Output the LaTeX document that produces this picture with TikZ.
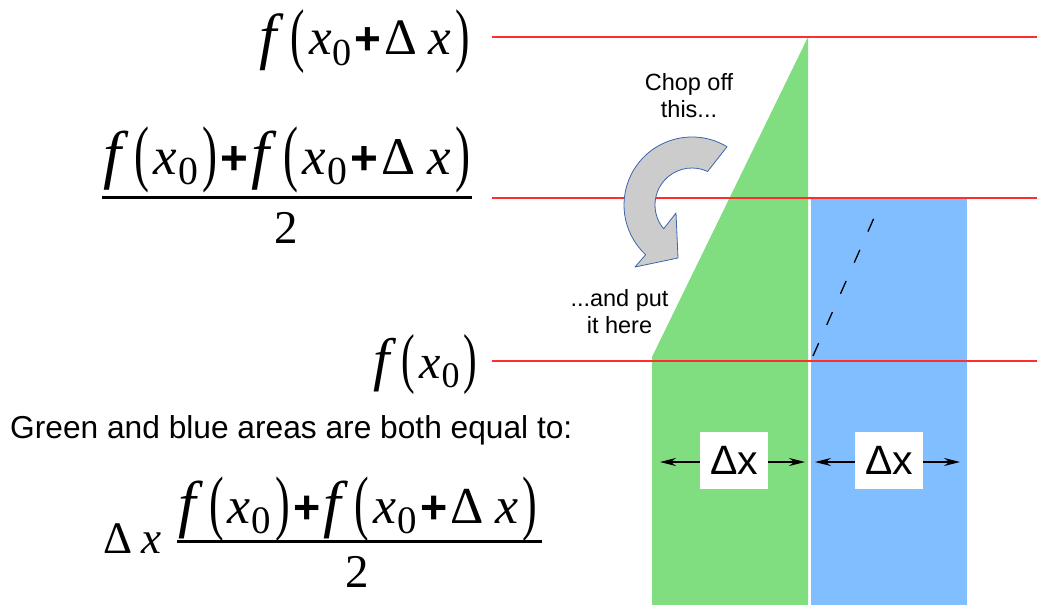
\documentclass[tikz,border=0pt]{standalone}
\usepackage{fontspec}
\setmainfont{Liberation Sans}
\newfontfamily\serifmath{Liberation Serif}
\usetikzlibrary{arrows.meta,calc}
\definecolor{grn}{RGB}{128,222,128}
\definecolor{blu}{RGB}{128,190,255}
\definecolor{redl}{RGB}{255,45,45}
\definecolor{arrfill}{RGB}{204,204,204}
\definecolor{arredge}{RGB}{60,100,175}
\newcommand{\mfi}[1]{{\itshape #1}}
\newcommand{\bigf}{\raisebox{-0.04em}{\scalebox{1.22}{\mfi{f}}}}
\newcommand{\lpar}{\raisebox{-0.06em}{\scalebox{0.85}[1.38]{(}}\kern0.08em}
\newcommand{\rpar}{\kern0.08em\raisebox{-0.06em}{\scalebox{0.85}[1.38]{)}}}
\newcommand{\subz}{\kern0.02em\raisebox{-0.2em}{\scalebox{0.75}{0}}}
\newcommand{\pls}{\kern0.06em{\normalfont\bfseries\scalebox{0.9}{+}}\kern0.06em}
\newcommand{\dlx}{Δ\kern0.22em\mfi{x}}
\newcommand{\fofx}[1]{\bigf\kern0.26em\lpar\mfi{x}\subz#1\rpar}
\newcommand{\mathsz}{\serifmath\fontsize{50}{60}\selectfont}
\begin{document}
\begin{tikzpicture}[x=1pt,y=-1pt,
  redline/.style={draw=redl,line width=1.3pt},
  formula/.style={inner sep=0pt,outer sep=0pt},
  fracline/.style={line width=3pt},
  two/.style={inner sep=0pt,font=\serifmath\fontsize{47}{50}\selectfont},
  note/.style={align=center,inner sep=0pt,font=\fontsize{23.5}{27}\selectfont},
  dxbox/.style={fill=white,minimum width=68pt,minimum height=57pt,inner sep=0pt,font=\fontsize{41}{42}\selectfont},
  dxarrow/.style={-{Stealth[length=16pt,width=8pt]},line width=1.3pt},
  turn/.style={fill=arrfill,draw=arredge,line width=0.8pt,line join=round},
]
\useasboundingbox[fill=white] (0,0) rectangle (1037,605);
% areas
\fill[grn] (652,605) -- (652,357) -- (808,37) -- (808,605) -- cycle;
\fill[blu] (811,198) rectangle (967,605);
\draw[dash pattern=on 14pt off 20pt, line width=1.3pt] (813,356) -- (881,202);
% formulas
\node[formula,anchor=base east] (ftop) at (470,55)
  {\resizebox{210pt}{!}{\mathsz\fofx{\pls\dlx}}};
\node[formula,anchor=base west] (num1) at (103,174)
  {\resizebox{367pt}{!}{\mathsz\fofx{}\pls\fofx{\pls\dlx}}};
\draw[fracline] (102,197) -- (472,197);
\node[two,anchor=base] (den1) at (286.5,243) {2};
\node[formula,anchor=base east] (fbot) at (477,378)
  {\resizebox{104pt}{!}{\mathsz\fofx{}}};
% red levels
\coordinate (r1a) at (492,37);  \coordinate (r1b) at (1037,37);
\coordinate (r2a) at (492,198); \coordinate (r2b) at (1037,198);
\coordinate (r3a) at (492,361); \coordinate (r3b) at (1037,361);
\draw[redline] (r1a) -- (r1b);
\draw[redline] (r2a) -- (r2b);
\draw[redline] (r3a) -- (r3b);
% notes
\node[note] (chop) at (689,96) {Chop off\\this...};
\node[note] (put) at (619.5,312) {...and put\\it here};
% curved arrow
\coordinate (c) at (692,205);
\draw[turn] ($(c)+(-59:68)$) arc[start angle=-59,end angle=-227,radius=68]
  -- (635,267) -- (678,258) -- (676,213) -- ($(c)+(-220:37)$)
  arc[start angle=-220,end angle=-65,radius=37] -- cycle;
% bottom text
\node[anchor=base west,inner sep=0pt,font=\fontsize{31.7}{38}\selectfont] (equal) at (10,438)
  {Green and blue areas are both equal to:};
\node[formula,anchor=base west] (dx) at (103,553)
  {\resizebox{59pt}{!}{\mathsz\dlx}};
\node[formula,anchor=base west] (num2) at (178,523)
  {\resizebox{359pt}{!}{\mathsz\fofx{}\pls\fofx{\pls\dlx}}};
\draw[fracline] (177,541) -- (542,541);
\node[two,anchor=base] (den2) at (357,587) {2};
% delta x widths
\node[dxbox] (b1) at (734,460.5) {Δx};
\node[dxbox] (b2) at (889,460.5) {Δx};
\coordinate (g1) at (660,462); \coordinate (g2) at (805,462);
\coordinate (h1) at (815,462); \coordinate (h2) at (960,462);
\draw[dxarrow] (b1.west |- g1) -- (g1);
\draw[dxarrow] (b1.east |- g2) -- (g2);
\draw[dxarrow] (b2.west |- h1) -- (h1);
\draw[dxarrow] (b2.east |- h2) -- (h2);
\end{tikzpicture}
\end{document}
